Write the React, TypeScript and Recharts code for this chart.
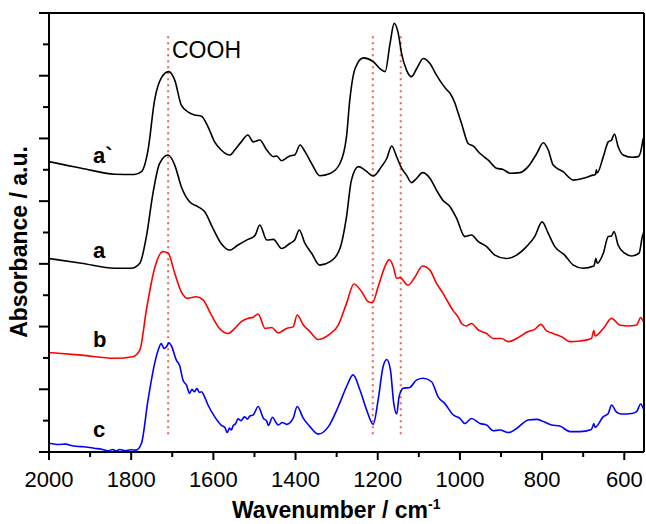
import React from 'react';
import { LineChart, Line, XAxis, YAxis, ReferenceLine } from 'recharts';

const FONT = '"Liberation Sans", Arial, sans-serif';

// wavenumber ticks every 100, labelled every 200
const xTicks = [2000, 1900, 1800, 1700, 1600, 1500, 1400, 1300, 1200, 1100, 1000, 900, 800, 700, 600];
const yTicks = [0, 1, 2, 3, 4, 5, 6, 7, 8, 9, 10, 11, 12, 13, 14];

// dotted marker lines (cm-1)
const markers = [1710, 1212, 1144];

// [wavenumber, absorbance (offset, a.u.)]
const spectrumA2: [number, number][] = [
  [2000, 9.26], [1921, 9.05], [1840, 8.86], [1792, 8.85], [1775, 8.94], [1759, 9.63], [1743, 11.22],
  [1727, 11.92], [1709, 12.13], [1694, 11.86], [1678, 11.06], [1662, 10.85], [1646, 10.75], [1629, 10.71],
  [1613, 10.37], [1597, 9.89], [1581, 9.63], [1560, 9.47], [1548, 9.63], [1532, 9.89], [1516, 10.11],
  [1503, 9.89], [1487, 9.95], [1470, 9.63], [1454, 9.42], [1446, 9.44], [1434, 9.29], [1414, 9.44],
  [1402, 9.47], [1389, 9.79], [1377, 9.58], [1361, 9.2], [1341, 8.81], [1316, 8.88], [1292, 9.2],
  [1276, 10.06], [1268, 11.22], [1255, 12.23], [1235, 12.57], [1211, 12.45], [1195, 12.23], [1182, 12.13],
  [1170, 13.03], [1160, 13.67], [1150, 13.35], [1142, 12.71], [1130, 12.18], [1118, 11.97], [1105, 12.23],
  [1089, 12.55], [1073, 12.39], [1057, 12.02], [1041, 11.7], [1032, 11.55], [1024, 11.44], [1012, 11.12],
  [1004, 10.8], [996, 10.48], [980, 9.84], [968, 9.76], [951, 9.52], [931, 9.31], [911, 9.05], [895, 9.01],
  [878, 8.89], [854, 8.91], [834, 9.1], [813, 9.52], [797, 9.86], [785, 9.63], [773, 9.15], [749, 8.94],
  [724, 8.67], [700, 8.73], [676, 8.83], [670, 8.85], [668, 9.0], [666, 8.9], [651, 9.42], [639, 9.89],
  [631, 9.95], [624, 10.14], [615, 9.74], [603, 9.47], [582, 9.4], [566, 9.42], [560, 9.58], [554, 10.0],
];

const spectrumA: [number, number][] = [
  [2000, 6.17], [1921, 6.02], [1840, 5.86], [1800, 5.86], [1779, 6.02], [1763, 6.87], [1747, 8.25],
  [1731, 9.2], [1710, 9.47], [1694, 9.15], [1678, 8.46], [1658, 7.98], [1637, 7.82], [1621, 7.66],
  [1601, 7.13], [1581, 6.65], [1560, 6.44], [1540, 6.6], [1516, 6.78], [1499, 6.9], [1487, 7.24],
  [1470, 6.76], [1454, 6.78], [1434, 6.49], [1414, 6.65], [1402, 6.76], [1391, 7.08], [1377, 6.65],
  [1361, 6.34], [1341, 5.96], [1316, 6.07], [1292, 6.49], [1276, 7.5], [1264, 8.67], [1247, 9.1],
  [1231, 8.99], [1211, 8.8], [1191, 9.1], [1178, 9.36], [1166, 9.76], [1154, 9.42], [1142, 9.05],
  [1130, 8.83], [1118, 8.59], [1105, 8.73], [1091, 8.91], [1073, 8.73], [1057, 8.35], [1041, 8.02],
  [1024, 7.82], [1008, 7.45], [988, 6.87], [972, 6.92], [955, 6.71], [935, 6.55], [915, 6.28], [887, 6.17],
  [862, 6.28], [838, 6.55], [818, 6.87], [800, 7.34], [785, 6.97], [769, 6.55], [745, 6.28], [724, 5.96],
  [700, 5.86], [674, 5.93], [669, 6.17], [666, 6.02], [651, 6.34], [639, 6.87], [631, 6.89], [625, 7.03],
  [615, 6.6], [599, 6.34], [582, 6.25], [564, 6.34], [556, 6.87], [553, 7.0],
];

const spectrumB: [number, number][] = [
  [2000, 3.17], [1921, 3.09], [1840, 2.99], [1796, 3.04], [1779, 3.25], [1763, 4.53], [1743, 5.86],
  [1723, 6.39], [1710, 6.34], [1694, 5.7], [1678, 5.11], [1662, 4.9], [1642, 4.95], [1625, 4.85],
  [1605, 4.37], [1585, 3.94], [1564, 3.78], [1548, 3.94], [1532, 4.16], [1516, 4.26], [1503, 4.3],
  [1491, 4.4], [1474, 3.94], [1458, 3.97], [1442, 3.8], [1422, 3.94], [1406, 3.99], [1396, 4.37],
  [1381, 4.05], [1365, 3.84], [1345, 3.59], [1320, 3.73], [1296, 4.05], [1276, 4.74], [1258, 5.36],
  [1239, 5.11], [1223, 4.79], [1213, 4.76], [1199, 5.27], [1182, 5.93], [1172, 6.14], [1162, 5.91],
  [1154, 5.54], [1146, 5.56], [1126, 5.32], [1109, 5.59], [1091, 5.93], [1073, 5.8], [1057, 5.38],
  [1041, 5.06], [1032, 4.85], [1016, 4.5], [1004, 4.3], [996, 4.1], [984, 4.02], [972, 4.1], [955, 3.89],
  [935, 3.78], [919, 3.62], [899, 3.62], [882, 3.52], [862, 3.62], [834, 3.84], [818, 3.91], [803, 4.07],
  [789, 3.86], [773, 3.78], [753, 3.68], [732, 3.52], [708, 3.54], [680, 3.62], [674, 3.87], [671, 3.7],
  [651, 3.94], [631, 4.26], [611, 4.05], [590, 4.02], [570, 4.05], [560, 4.29], [554, 4.16],
];

const spectrumC: [number, number][] = [
  [2000, 0.28], [1975, 0.24], [1960, 0.25], [1940, 0.19], [1921, 0.17], [1905, 0.15], [1890, 0.12],
  [1872, 0.09], [1856, 0.04], [1845, 0.08], [1836, 0.03], [1828, 0.08], [1815, 0.04], [1800, 0.07],
  [1788, 0.06], [1775, 0.28], [1759, 1.66], [1743, 2.82], [1733, 3.3], [1727, 3.46], [1720, 3.3],
  [1714, 3.36], [1708, 3.48], [1702, 3.38], [1690, 2.93], [1682, 2.75], [1674, 2.3], [1665, 2.12],
  [1658, 1.87], [1652, 2.0], [1646, 1.92], [1640, 2.02], [1634, 1.9], [1629, 1.92], [1620, 1.72],
  [1613, 1.5], [1597, 1.13], [1581, 0.86], [1572, 0.78], [1566, 0.62], [1561, 0.76], [1556, 0.7],
  [1552, 0.84], [1546, 0.9], [1540, 1.06], [1533, 1.0], [1524, 1.12], [1517, 1.05], [1511, 1.15],
  [1503, 1.18], [1491, 1.45], [1478, 1.07], [1470, 0.98], [1466, 0.85], [1456, 1.11], [1448, 0.95],
  [1442, 0.86], [1432, 0.94], [1422, 0.88], [1406, 1.07], [1396, 1.45], [1381, 1.07], [1365, 0.81],
  [1345, 0.57], [1320, 0.81], [1296, 1.45], [1276, 2.08], [1260, 2.46], [1243, 1.97], [1227, 1.34],
  [1211, 0.88], [1199, 1.66], [1187, 2.72], [1178, 2.95], [1169, 2.61], [1161, 1.55], [1154, 1.21],
  [1148, 1.76], [1138, 2.03], [1122, 2.06], [1105, 2.3], [1089, 2.35], [1069, 2.24], [1053, 1.76],
  [1037, 1.55], [1016, 1.18], [1000, 1.07], [988, 0.91], [972, 1.07], [951, 0.91], [935, 0.86],
  [919, 0.68], [903, 0.7], [882, 0.62], [862, 0.75], [834, 1.02], [813, 1.04], [797, 0.97], [777, 0.86],
  [757, 0.83], [732, 0.65], [708, 0.65], [680, 0.72], [674, 0.91], [671, 0.79], [651, 1.13], [639, 1.23],
  [631, 1.5], [620, 1.29], [607, 1.21], [582, 1.23], [570, 1.29], [560, 1.53], [554, 1.39],
];

const toPoints = (pairs: [number, number][]) => pairs.map(([wn, abs]) => ({ wn, abs }));

const series = [
  { name: 'a`', data: toPoints(spectrumA2), color: '#000000' },
  { name: 'a', data: toPoints(spectrumA), color: '#000000' },
  { name: 'b', data: toPoints(spectrumB), color: '#ff0000' },
  { name: 'c', data: toPoints(spectrumC), color: '#0000ff' },
];

const XTick = (props: any) => {
  const { x, y, payload } = props;
  const major = payload.value % 200 === 0;
  return (
    <g>
      <line x1={x} x2={x} y1={y} y2={y + (major ? 8 : 5)} stroke="#000" strokeWidth={2} />
      {major && (
        <text x={x} y={y + 35} textAnchor="middle" fontSize={22} fontFamily={FONT} fill="#000">
          {payload.value}
        </text>
      )}
    </g>
  );
};

const YTick = (props: any) => {
  const { x, y, payload } = props;
  const major = payload.value % 2 === 0;
  return <line x1={x - (major ? 10 : 6)} x2={x} y1={y} y2={y} stroke="#000" strokeWidth={2} />;
};

export default function App() {
  return (
    <div style={{ position: 'absolute', left: 0, top: 0, width: 646, height: 524, background: '#fff' }}>
      <LineChart width={646} height={524} margin={{ top: 13, right: 2, bottom: 0, left: 0 }}>
        <XAxis
          dataKey="wn"
          type="number"
          domain={[552, 2000]}
          reversed
          allowDataOverflow
          ticks={xTicks}
          interval={0}
          tickSize={0}
          tickMargin={0}
          tickLine={false}
          tick={<XTick />}
          height={72}
          axisLine={{ stroke: '#000', strokeWidth: 2 }}
        />
        <YAxis
          type="number"
          domain={[0, 14]}
          allowDataOverflow
          ticks={yTicks}
          interval={0}
          width={49}
          tickSize={0}
          tickMargin={0}
          tickLine={false}
          tick={<YTick />}
          axisLine={{ stroke: '#000', strokeWidth: 2 }}
        />
        <ReferenceLine y={14} stroke="#000" strokeWidth={2} />
        <ReferenceLine x={552} stroke="#000" strokeWidth={2} />
        {markers.map((wn) => (
          <ReferenceLine
            key={wn}
            segment={[{ x: wn, y: 0.57 }, { x: wn, y: 13.36 }]}
            stroke="#f2604a"
            strokeWidth={2}
            strokeDasharray="2 4"
          />
        ))}
        {series.map((s) => (
          <Line
            key={s.name}
            data={s.data}
            dataKey="abs"
            type="monotone"
            stroke={s.color}
            strokeWidth={1.6}
            dot={false}
            activeDot={false}
            isAnimationActive={false}
          />
        ))}
      </LineChart>
      <svg
        width={646}
        height={524}
        style={{ position: 'absolute', left: 0, top: 0, pointerEvents: 'none' }}
        fontFamily={FONT}
      >
        <text x={93} y={163} fontSize={22} fontWeight="bold">a`</text>
        <text x={93} y={258} fontSize={22} fontWeight="bold">a</text>
        <text x={93} y={347} fontSize={22} fontWeight="bold">b</text>
        <text x={93} y={437} fontSize={22} fontWeight="bold">c</text>
        <text x={172} y={58} fontSize={23}>COOH</text>
        <text x={232} y={518} fontSize={23} fontWeight="bold">
          Wavenumber / cm<tspan dy={-9} fontSize={14}>-1</tspan>
        </text>
        <text x={27} y={242} fontSize={23} fontWeight="bold" textAnchor="middle" transform="rotate(-90 27 242)">
          Absorbance / a.u.
        </text>
      </svg>
    </div>
  );
}
